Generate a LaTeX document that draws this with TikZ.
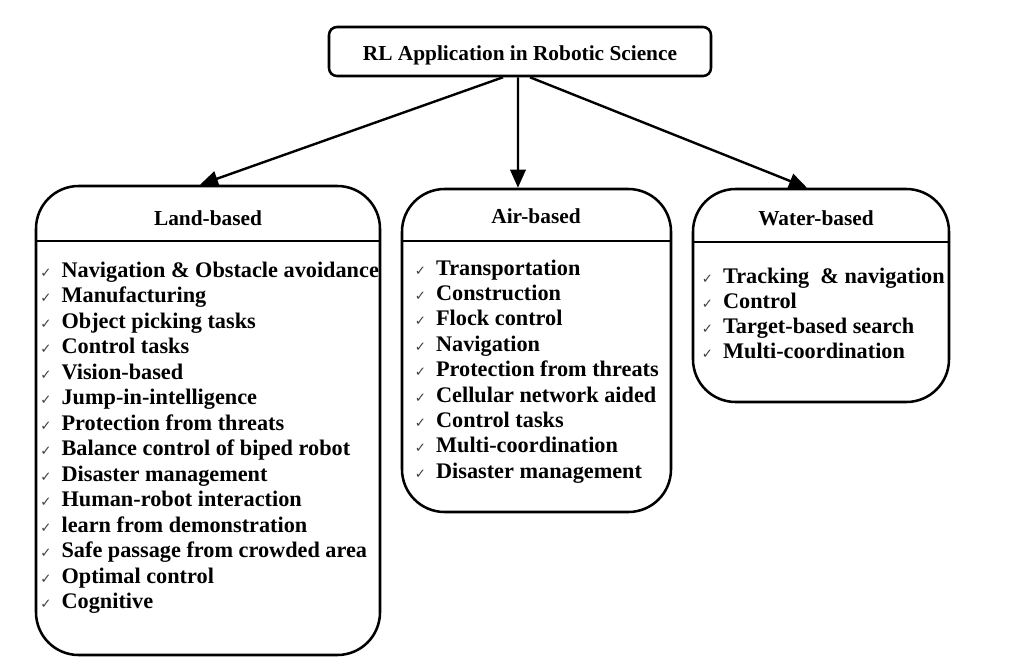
\documentclass[tikz,border=0pt]{standalone}
\usepackage{fontspec}
\setmainfont{Liberation Serif}
\newfontfamily\dejavu{DejaVu Sans}
\usetikzlibrary{arrows.meta}
\newcommand{\chk}{{\dejavu\fontsize{10pt}{10pt}\selectfont\color{black!75}✓}}
\begin{document}
\begin{tikzpicture}[x=0.75pt,y=-0.75pt,
 box/.style={draw,line width=1.9pt,rounded corners=32pt,inner sep=0pt},
 arr/.style={line width=1.8pt,-{Triangle[length=13.5pt,width=11.5pt]}},
 ttl/.style={font=\bfseries\fontsize{16pt}{19pt}\selectfont,anchor=base,inner sep=0pt},
 item/.style={font=\bfseries\fontsize{16.7pt}{19pt}\selectfont,anchor=base west,inner sep=0pt}]
\useasboundingbox (0,0) rectangle (1022,669);
\fill[white] (0,0) rectangle (1022,669);

% top box
\node[draw,line width=1.9pt,rounded corners=6pt,minimum width=286.5pt,minimum height=36.75pt,inner sep=0pt] (top) at (520,51.5) {};
\node[ttl] (toptitle) at (520,60) {RL Application in Robotic Science};

% category boxes
\node[box,minimum width=258pt,minimum height=351.75pt] (land) at (208,420.5) {};
\node[box,minimum width=201.75pt,minimum height=242.25pt] (air) at (536.5,350.5) {};
\node[box,minimum width=192pt,minimum height=159.75pt] (water) at (821,295.5) {};

% dividers
\coordinate (ld) at (0,241);
\coordinate (ad) at (0,241);
\coordinate (wd) at (0,242);
\draw[line width=1.9pt] (land.west |- ld) -- (land.east |- ld);
\draw[line width=1.9pt] (air.west |- ad) -- (air.east |- ad);
\draw[line width=1.9pt] (water.west |- wd) -- (water.east |- wd);

% titles
\node[ttl] (landtitle) at (208,225.5) {Land-based};
\node[ttl] (airtitle) at (536,223) {Air-based};
\node[ttl] (watertitle) at (816,225) {Water-based};

% arrows
\draw[arr] ([xshift=-12.75pt]top.south) -- ([xshift=-6pt]land.north);
\draw[arr] ([xshift=-1.5pt]top.south) -- ([xshift=-13.9pt]air.north);
\draw[arr] ([xshift=7.5pt]top.south) -- ([xshift=-10.5pt]water.north);

% items
\foreach \t [count=\i] in {Navigation \& Obstacle avoidance, Manufacturing, Object picking tasks, Control tasks, Vision-based, Jump-in-intelligence, Protection from threats, Balance control of biped robot, Disaster management, Human-robot interaction, learn from demonstration, Safe passage from crowded area, Optimal control, Cognitive}
  \node[item] (land\i) at (40,{277+25.5*(\i-1)}) {\makebox[16pt][l]{\chk}\t};

\foreach \t [count=\i] in {Transportation, Construction, Flock control, Navigation, Protection from threats, Cellular network aided, Control tasks, Multi-coordination, Disaster management}
  \node[item] (air\i) at (414.5,{275+25.4*(\i-1)}) {\makebox[16pt][l]{\chk}\t};

\foreach \t [count=\i] in {Tracking\ \ \& navigation, Control, Target-based search, Multi-coordination}
  \node[item] (water\i) at (701.5,{283+25.3*(\i-1)}) {\makebox[16pt][l]{\chk}\t};
\end{tikzpicture}
\end{document}
